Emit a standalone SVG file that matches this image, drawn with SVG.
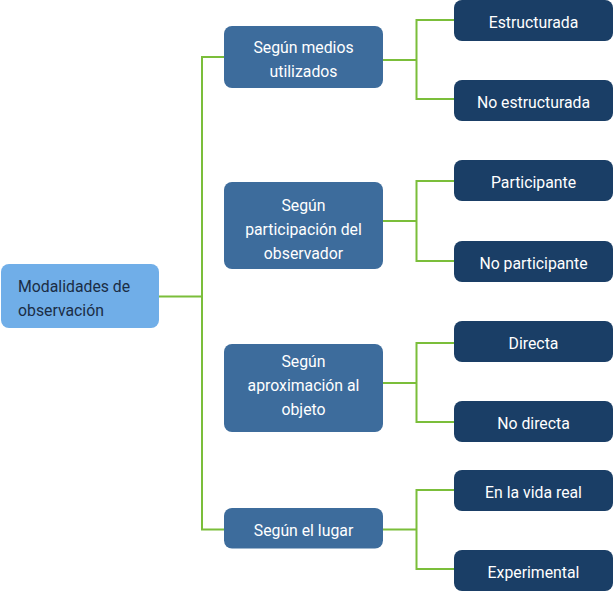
<svg xmlns="http://www.w3.org/2000/svg" width="613" height="591" viewBox="0 0 613 591">
<style>
.c{fill:none;stroke:#7BBE3A;stroke-width:2}
.root rect{fill:#70AEE8}
.mid rect{fill:#3D6C9C}
.leaf rect{fill:#1A3E66}
text{font-family:Roboto,"Liberation Sans",sans-serif;font-size:15.8px}
.root text{fill:#1B2D45}
.mid text,.leaf text{fill:#FFFFFF;text-anchor:middle}
</style>
<rect width="613" height="591" fill="#FFFFFF"/>
<g id="connectors">
<path class="c" d="M159 296.5H202M224 57H202V529.5H224"/>
<path class="c" d="M373 60H416.5M454 20H416.5V99H454"/>
<path class="c" d="M373 221H416.5M454 181H416.5V261H454"/>
<path class="c" d="M373 383H416.5M454 343H416.5V422H454"/>
<path class="c" d="M373 529.5H416.5M454 490H416.5V569H454"/>
</g>
<g id="root" class="root"><rect x="1" y="264" width="158" height="64" rx="8"/><text x="18" y="292">Modalidades de</text><text x="18" y="316">observación</text></g>
<g id="n1" class="mid"><rect x="224" y="26" width="159" height="62" rx="8"/><text x="303.5" y="53">Según medios</text><text x="303.5" y="77">utilizados</text></g>
<g id="n2" class="mid"><rect x="224" y="182" width="159" height="87" rx="8"/><text x="303.5" y="210.5">Según</text><text x="303.5" y="234.5">participación del</text><text x="303.5" y="258.5">observador</text></g>
<g id="n3" class="mid"><rect x="224" y="344" width="159" height="88" rx="8"/><text x="303.5" y="366.5">Según</text><text x="303.5" y="390.5">aproximación al</text><text x="303.5" y="414.5">objeto</text></g>
<g id="n4" class="mid"><rect x="224" y="508" width="159" height="40.5" rx="8"/><text x="303.5" y="535.5">Según el lugar</text></g>
<g id="l1" class="leaf"><rect x="454" y="0" width="159" height="41" rx="8"/><text x="533.5" y="27.5">Estructurada</text></g>
<g id="l2" class="leaf"><rect x="454" y="80" width="159" height="41" rx="8"/><text x="533.5" y="107.5">No estructurada</text></g>
<g id="l3" class="leaf"><rect x="454" y="160" width="159" height="41" rx="8"/><text x="533.5" y="187.5">Participante</text></g>
<g id="l4" class="leaf"><rect x="454" y="241" width="159" height="41" rx="8"/><text x="533.5" y="268.5">No participante</text></g>
<g id="l5" class="leaf"><rect x="454" y="321" width="159" height="41" rx="8"/><text x="533.5" y="348.5">Directa</text></g>
<g id="l6" class="leaf"><rect x="454" y="401" width="159" height="41" rx="8"/><text x="533.5" y="428.5">No directa</text></g>
<g id="l7" class="leaf"><rect x="454" y="470" width="159" height="41" rx="8"/><text x="533.5" y="497.5">En la vida real</text></g>
<g id="l8" class="leaf"><rect x="454" y="550" width="159" height="41" rx="8"/><text x="533.5" y="577.5">Experimental</text></g>
</svg>
